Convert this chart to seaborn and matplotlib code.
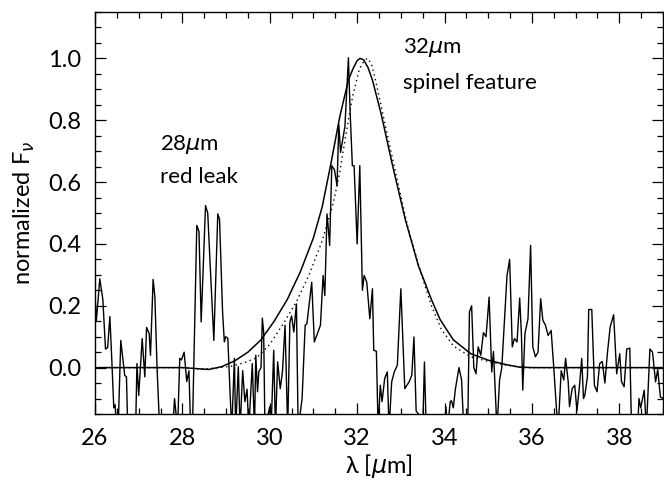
import matplotlib
matplotlib.use("Agg")
import matplotlib.pyplot as plt
import seaborn as sns
from matplotlib.ticker import MultipleLocator

# ---- observed spectrum (wavelength in micron, normalized flux) ----
spec_wave = [
    26.00, 26.03, 26.11, 26.18, 26.24, 26.29, 26.34, 26.38, 26.43, 26.46,
    26.49, 26.53, 26.59, 26.68, 26.72, 26.75, 26.93, 26.96, 27.00, 27.08,
    27.14, 27.18, 27.24, 27.27, 27.33, 27.37, 27.42, 27.48, 27.78, 27.82,
    27.89, 27.94, 27.98, 28.04, 28.10, 28.15, 28.19, 28.23, 28.33, 28.38,
    28.43, 28.53, 28.58, 28.63, 28.72, 28.81, 28.85, 28.92, 28.96, 28.99,
    29.04, 29.09, 29.13, 29.19, 29.22, 29.28, 29.32, 29.38, 29.43, 29.48,
    29.52, 29.60, 29.65, 29.68, 29.72, 29.75, 29.80, 29.83, 29.86, 29.89,
    30.00, 30.03, 30.09, 30.13, 30.18, 30.24, 30.29, 30.35, 30.41, 30.46,
    30.50, 30.55, 30.61, 30.65, 30.74, 30.81, 30.85, 30.96, 31.02, 31.16,
    31.22, 31.26, 31.31, 31.34, 31.37, 31.42, 31.48, 31.54, 31.58, 31.62,
    31.72, 31.80, 31.84, 31.89, 31.93, 32.00, 32.06, 32.12, 32.16, 32.22,
    32.29, 32.35, 32.38, 32.44, 32.48, 32.53, 32.57, 32.63, 32.69, 32.73,
    32.79, 32.85, 32.92, 33.00, 33.09, 33.19, 33.25, 33.30, 33.35, 33.40,
    33.45, 33.50, 33.54, 33.58, 34.01, 34.03, 34.07, 34.13, 34.16, 34.20,
    34.25, 34.33, 34.39, 34.44, 34.53, 34.57, 34.62, 34.67, 34.72, 34.77,
    34.83, 34.89, 34.95, 35.02, 35.08, 35.12, 35.20, 35.26, 35.31, 35.43,
    35.49, 35.55, 35.60, 35.66, 35.72, 35.76, 35.79, 35.84, 35.91, 35.97,
    36.02, 36.08, 36.14, 36.20, 36.25, 36.31, 36.37, 36.44, 36.50, 36.56,
    36.60, 36.67, 36.73, 36.77, 36.83, 36.86, 36.92, 36.98, 37.03, 37.09,
    37.14, 37.18, 37.21, 37.27, 37.30, 37.37, 37.43, 37.49, 37.55, 37.61,
    37.67, 37.73, 37.79, 37.87, 37.94, 38.01, 38.05, 38.11, 38.17, 38.24,
    38.28, 38.42, 38.45, 38.49, 38.57, 38.62, 38.70, 38.76, 38.83, 38.88,
    38.94, 39.01,
]
spec_flux = [
    0.235, 0.15, 0.287, 0.22, 0.06, 0.065, 0.165, 0.04, -0.13, -0.12,
    -0.2, -0.2, 0.088, -0.025, -0.03, -0.2, -0.2, 0.013, -0.09, 0.094,
    -0.03, 0.13, 0.11, 0.04, 0.285, 0.23, 0.0, -0.2, -0.2, -0.1,
    -0.2, 0.03, 0.025, 0.05, -0.045, -0.01, -0.2, -0.2, 0.46, 0.44,
    0.148, 0.524, 0.50, 0.35, 0.088, 0.497, 0.48, 0.18, 0.083, 0.10,
    0.095, -0.078, -0.2, 0.03, -0.2, 0.003, -0.2, -0.01, -0.11, -0.07,
    -0.2, 0.013, -0.2, 0.04, -0.078, -0.013, 0.0, 0.16, 0.115, -0.2,
    -0.126, -0.2, 0.056, -0.2, 0.019, -0.068, -0.014, 0.137, -0.2, 0.147,
    0.167, 0.115, 0.206, -0.2, -0.1, 0.137, 0.142, 0.276, 0.083, 0.137,
    0.298, 0.233, 0.497, 0.45, 0.395, 0.653, 0.64, 0.588, 0.787, 0.696,
    0.78, 1.002, 0.825, 0.653, 0.653, 0.40, 0.653, 0.25, 0.298, 0.276,
    0.158, 0.255, 0.056, 0.053, -0.2, -0.057, -0.11, -0.035, -0.014, -0.2,
    -0.046, -0.014, 0.008, 0.255, -0.068, -0.046, -0.025, 0.099, -0.14, -0.15,
    -0.2, -0.2, 0.018, -0.2, -0.2, -0.126, -0.2, -0.11, -0.107, -0.13,
    -0.068, 0.0, -0.04, -0.2, -0.2, 0.18, 0.2, 0.0, -0.02, 0.067,
    0.04, 0.113, 0.1, 0.228, -0.014, 0.052, -0.2, -0.04, 0.0, 0.298,
    0.35, 0.067, 0.094, 0.083, 0.225, 0.105, -0.073, 0.11, 0.158, 0.395,
    0.067, 0.035, 0.05, 0.223, 0.153, 0.137, 0.104, 0.12, 0.0, -0.13,
    -0.2, -0.01, -0.04, 0.03, -0.045, -0.126, -0.068, -0.057, -0.14, -0.057,
    0.03, -0.1, -0.09, -0.03, 0.188, 0.188, -0.057, -0.078, 0.013, 0.02,
    -0.05, 0.05, 0.131, 0.171, -0.02, 0.045, -0.045, -0.062, 0.06, 0.063,
    -0.2, -0.2, -0.1, -0.13, -0.073, -0.2, 0.06, 0.05, -0.046, -0.006,
    -0.095, -0.1,
]

# ---- model profile (solid) ----
model_wave = [26.0, 27.0, 28.0, 28.3, 28.6, 28.9, 29.2, 29.5, 29.8, 30.1,
              30.4, 30.7, 31.0, 31.2, 31.4, 31.6, 31.8, 31.9, 32.0, 32.07,
              32.15, 32.25, 32.35, 32.55, 32.8, 33.1, 33.4, 33.7, 33.9, 34.2,
              34.6, 35.0, 35.4, 35.7, 36.0, 39.0]
model_flux = [0.0, 0.0, 0.0, -0.003, -0.006, 0.003, 0.022, 0.05, 0.09, 0.15,
              0.22, 0.31, 0.42, 0.52, 0.66, 0.81, 0.93, 0.965, 0.993, 1.0,
              0.995, 0.97, 0.93, 0.82, 0.66, 0.48, 0.33, 0.22, 0.155, 0.09,
              0.045, 0.024, 0.01, 0.002, 0.0, 0.0]

# ---- alternative profile (dotted) ----
alt_wave = [26.0, 28.0, 28.5, 29.1, 29.4, 29.7, 30.0, 30.3, 30.6, 30.9,
            31.2, 31.45, 31.6, 31.75, 31.9, 32.05, 32.15, 32.23, 32.32, 32.42,
            32.65, 32.88, 33.15, 33.45, 33.7, 33.92, 34.2, 34.6, 35.0, 35.4,
            35.8, 39.0]
alt_flux = [0.0, 0.0, -0.005, 0.004, 0.015, 0.032, 0.075, 0.14, 0.21, 0.30,
            0.41, 0.53, 0.63, 0.76, 0.88, 0.965, 0.99, 1.0, 0.985, 0.93,
            0.78, 0.63, 0.46, 0.31, 0.20, 0.126, 0.07, 0.035, 0.02, 0.008,
            0.0, 0.0]

sns.set_theme(style="ticks")
plt.rcParams["font.family"] = ["Lato", "DejaVu Sans"]
plt.rcParams["font.weight"] = "normal"
plt.rcParams["text.color"] = "black"
plt.rcParams["axes.labelcolor"] = "black"
plt.rcParams["xtick.color"] = "black"
plt.rcParams["ytick.color"] = "black"
plt.rcParams["xtick.labelcolor"] = "black"
plt.rcParams["ytick.labelcolor"] = "black"
plt.rcParams["axes.linewidth"] = 1.0

fig = plt.figure(figsize=(6.64, 4.84), dpi=100)
ax = fig.add_axes([95 / 664, 70 / 484, 568 / 664, 402 / 484])

sns.lineplot(x=spec_wave, y=spec_flux, sort=False, estimator=None,
             color="black", lw=1.0, ax=ax)
sns.lineplot(x=model_wave, y=model_flux, sort=False, estimator=None,
             color="black", lw=1.1, ax=ax)
sns.lineplot(x=alt_wave, y=alt_flux, sort=False, estimator=None,
             color="black", lw=1.0, linestyle=(0, (1, 2.5)), ax=ax)

ax.set_xlim(26, 39)
ax.set_ylim(-0.15, 1.15)
ax.xaxis.set_major_locator(MultipleLocator(2))
ax.xaxis.set_minor_locator(MultipleLocator(0.5))
ax.yaxis.set_major_locator(MultipleLocator(0.2))
ax.yaxis.set_minor_locator(MultipleLocator(0.05))
ax.tick_params(which="both", direction="in", top=True, right=True,
               color="black", width=0.9)
ax.tick_params(which="major", length=8, labelsize=17, pad=10,
               labelcolor="black")
ax.tick_params(which="minor", length=4)
for s in ax.spines.values():
    s.set_color("black")

ax.set_xlabel("λ [$\\mu$m]", fontsize=17, labelpad=2, color="black")
ax.set_ylabel("normalized F$_\\nu$", fontsize=17, labelpad=8, color="black")

ax.text(27.49, 0.72, "28$\\mu$m", fontsize=16, va="center", ha="left",
        color="black")
ax.text(27.49, 0.615, "red leak", fontsize=16, va="center", ha="left",
        color="black")
ax.text(33.05, 1.035, "32$\\mu$m", fontsize=16, va="center", ha="left",
        color="black")
ax.text(33.05, 0.92, "spinel feature", fontsize=16, va="center", ha="left",
        color="black")

fig.savefig("out.png", dpi=100)
